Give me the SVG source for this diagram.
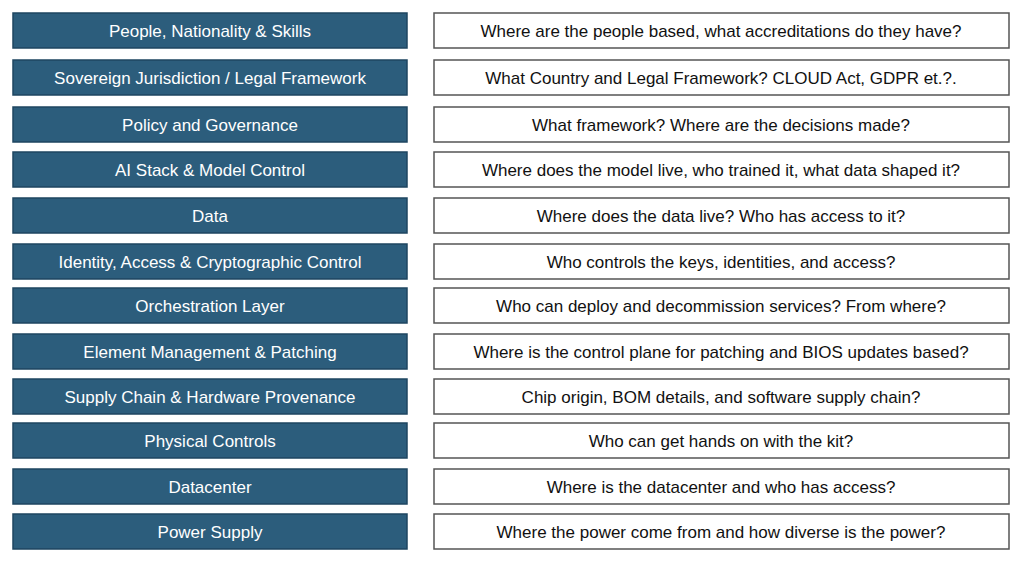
<svg xmlns="http://www.w3.org/2000/svg" width="1024" height="562" viewBox="0 0 1024 562">
<style>
.l{fill:#2C5D7C;stroke:#1E4560;stroke-width:1.5}
.r{fill:#fff;stroke:#555;stroke-width:1.5}
.lt{fill:#fff;font-family:"Liberation Sans",Arial,sans-serif;font-size:17px;text-anchor:middle;dominant-baseline:central}
.rt{fill:#111;font-family:"Liberation Sans",Arial,sans-serif;font-size:17px;text-anchor:middle;dominant-baseline:central}
</style>
<rect width="1024" height="562" fill="#fff"/>
<g id="row1"><rect class="l" x="13" y="13" width="394" height="35"/><text class="lt" x="210" y="31">People, Nationality &amp; Skills</text><rect class="r" x="434" y="13" width="575" height="35"/><text class="rt" x="721" y="31">Where are the people based, what accreditations do they have?</text></g>
<g id="row2"><rect class="l" x="13" y="60" width="394" height="35"/><text class="lt" x="210" y="78">Sovereign Jurisdiction / Legal Framework</text><rect class="r" x="434" y="60" width="575" height="35"/><text class="rt" x="721" y="78">What Country and Legal Framework? CLOUD Act, GDPR et.?.</text></g>
<g id="row3"><rect class="l" x="13" y="107" width="394" height="35"/><text class="lt" x="210" y="125">Policy and Governance</text><rect class="r" x="434" y="107" width="575" height="35"/><text class="rt" x="721" y="125">What framework? Where are the decisions made?</text></g>
<g id="row4"><rect class="l" x="13" y="152" width="394" height="35"/><text class="lt" x="210" y="170">AI Stack &amp; Model Control</text><rect class="r" x="434" y="152" width="575" height="35"/><text class="rt" x="721" y="170">Where does the model live, who trained it, what data shaped it?</text></g>
<g id="row5"><rect class="l" x="13" y="198" width="394" height="35"/><text class="lt" x="210" y="216">Data</text><rect class="r" x="434" y="198" width="575" height="35"/><text class="rt" x="721" y="216">Where does the data live? Who has access to it?</text></g>
<g id="row6"><rect class="l" x="13" y="244" width="394" height="35"/><text class="lt" x="210" y="262">Identity, Access &amp; Cryptographic Control</text><rect class="r" x="434" y="244" width="575" height="35"/><text class="rt" x="721" y="262">Who controls the keys, identities, and access?</text></g>
<g id="row7"><rect class="l" x="13" y="288" width="394" height="35"/><text class="lt" x="210" y="306">Orchestration Layer</text><rect class="r" x="434" y="288" width="575" height="35"/><text class="rt" x="721" y="306">Who can deploy and decommission services? From where?</text></g>
<g id="row8"><rect class="l" x="13" y="334" width="394" height="35"/><text class="lt" x="210" y="352">Element Management &amp; Patching</text><rect class="r" x="434" y="334" width="575" height="35"/><text class="rt" x="721" y="352">Where is the control plane for patching and BIOS updates based?</text></g>
<g id="row9"><rect class="l" x="13" y="379" width="394" height="35"/><text class="lt" x="210" y="397">Supply Chain &amp; Hardware Provenance</text><rect class="r" x="434" y="379" width="575" height="35"/><text class="rt" x="721" y="397">Chip origin, BOM details, and software supply chain?</text></g>
<g id="row10"><rect class="l" x="13" y="423" width="394" height="35"/><text class="lt" x="210" y="441">Physical Controls</text><rect class="r" x="434" y="423" width="575" height="35"/><text class="rt" x="721" y="441">Who can get hands on with the kit?</text></g>
<g id="row11"><rect class="l" x="13" y="469" width="394" height="35"/><text class="lt" x="210" y="487">Datacenter</text><rect class="r" x="434" y="469" width="575" height="35"/><text class="rt" x="721" y="487">Where is the datacenter and who has access?</text></g>
<g id="row12"><rect class="l" x="13" y="514" width="394" height="35"/><text class="lt" x="210" y="532">Power Supply</text><rect class="r" x="434" y="514" width="575" height="35"/><text class="rt" x="721" y="532">Where the power come from and how diverse is the power?</text></g>
<g id="connectors"/>
</svg>
